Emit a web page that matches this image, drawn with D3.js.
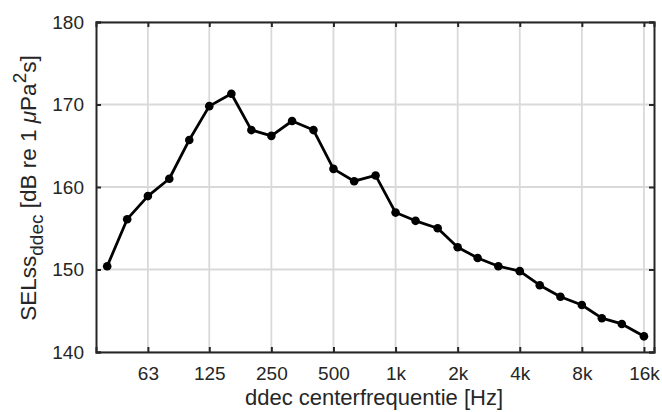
<!DOCTYPE html>
<html>
<head>
<meta charset="utf-8">
<script src="https://cdn.jsdelivr.net/npm/d3@7"></script>
<style>
  body { margin: 0; background: #fff; }
  text { font-family: "Liberation Sans", Arial, Helvetica, sans-serif; fill: #262626; }
</style>
</head>
<body>
<svg id="chart" width="662" height="412"></svg>
<script>
// decidecade band centre frequencies [Hz]
const bands = [40, 50, 63, 80, 100, 125, 160, 200, 250, 315, 400, 500, 630, 800,
  1000, 1250, 1600, 2000, 2500, 3150, 4000, 5000, 6300, 8000, 10000, 12500, 16000];
// SELss per band [dB re 1 uPa^2 s]
const selss = [150.4, 156.1, 158.9, 161.0, 165.7, 169.8, 171.3, 166.9, 166.2, 168.0, 166.9, 162.2, 160.7, 161.4,
  156.9, 155.9, 155.0, 152.7, 151.4, 150.4, 149.8, 148.1, 146.7, 145.7, 144.1, 143.4, 141.9];
const xTicks = [63, 125, 250, 500, 1000, 2000, 4000, 8000, 16000];
const xTickLabels = ["63", "125", "250", "500", "1k", "2k", "4k", "8k", "16k"];
const yTicks = [140, 150, 160, 170, 180];

const margin = {top: 22, right: 8, bottom: 60, left: 96},
  width = 662 - margin.left - margin.right,
  height = 412 - margin.top - margin.bottom;

const x = d3.scaleLog()
  .domain([35.3, 17900])
  .range([0, width]);
const y = d3.scaleLinear()
  .domain([140, 180])
  .range([height, 0]);

const svg = d3.select("#chart");
const g = svg.append("g")
  .attr("transform", "translate(" + margin.left + "," + margin.top + ")");

// grid
g.append("g").selectAll("line")
  .data(xTicks).enter().append("line")
  .attr("x1", d => x(d)).attr("x2", d => x(d))
  .attr("y1", 0).attr("y2", height)
  .attr("stroke", "#d9d9d9").attr("stroke-width", 1.8);
g.append("g").selectAll("line")
  .data(yTicks).enter().append("line")
  .attr("x1", 0).attr("x2", width)
  .attr("y1", d => y(d)).attr("y2", d => y(d))
  .attr("stroke", "#d9d9d9").attr("stroke-width", 1.8);

// axes (ticks point inward, box on)
const fmtX = d => xTickLabels[xTicks.indexOf(d)];
const xAxis = g.append("g")
  .attr("transform", "translate(0," + height + ")")
  .call(d3.axisBottom(x).tickValues(xTicks).tickFormat(fmtX).tickSize(-5).tickPadding(15));
const xTop = g.append("g")
  .call(d3.axisTop(x).tickValues(xTicks).tickFormat("").tickSize(-5));
const yAxis = g.append("g")
  .call(d3.axisLeft(y).tickValues(yTicks).tickSize(-5).tickPadding(12));
const yRight = g.append("g")
  .attr("transform", "translate(" + width + ",0)")
  .call(d3.axisRight(y).tickValues(yTicks).tickFormat("").tickSize(-5));

[xAxis, xTop, yAxis, yRight].forEach(a => {
  a.selectAll(".domain").attr("stroke", "#262626").attr("stroke-width", 2);
  a.selectAll(".tick line").attr("stroke", "#262626").attr("stroke-width", 2);
  a.selectAll(".tick text").attr("font-size", 19).attr("fill", "#262626")
    .style("font-family", "'Liberation Sans', Arial, sans-serif");
});

// data line + markers
const line = d3.line()
  .x((d, i) => x(bands[i]))
  .y(d => y(d));
g.append("path")
  .datum(selss)
  .attr("d", line)
  .attr("fill", "none")
  .attr("stroke", "#000")
  .attr("stroke-width", 2.8)
  .attr("stroke-linejoin", "round");
g.selectAll(".dot")
  .data(selss).enter().append("circle")
  .attr("class", "dot")
  .attr("cx", (d, i) => x(bands[i]))
  .attr("cy", d => y(d))
  .attr("r", 4.3)
  .attr("fill", "#000");

// x label
svg.append("text")
  .attr("x", 374)
  .attr("y", 405)
  .attr("text-anchor", "middle")
  .attr("font-size", 22)
  .text("ddec centerfrequentie [Hz]");

// y label with sub/superscripts
const yl = svg.append("text")
  .attr("transform", "translate(36,188) rotate(-90)")
  .attr("text-anchor", "middle")
  .attr("font-size", 22.5);
yl.append("tspan").text("SELss");
yl.append("tspan").attr("dy", 7).attr("font-size", 19).text("ddec");
yl.append("tspan").attr("dy", -7).text(" [dB re 1 ");
yl.append("tspan").attr("font-style", "italic").text("\u03BC");
yl.append("tspan").text("Pa");
yl.append("tspan").attr("dy", -10).attr("font-size", 19).text("2");
yl.append("tspan").attr("dy", 10).text("s]");
</script>
</body>
</html>
